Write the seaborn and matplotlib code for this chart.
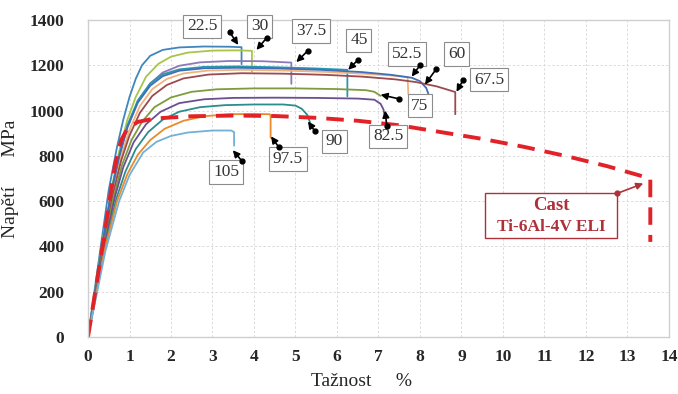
import matplotlib
matplotlib.use("Agg")
import matplotlib.pyplot as plt
import seaborn as sns
import pandas as pd

# Tensile curves of printed Ti-6Al-4V ELI specimens, one per build angle
angles = ["22.5", "30", "37.5", "45", "52.5", "60", "67.5", "75", "82.5", "90", "97.5", "105"]

strain_22_5 = [0, 0.3, 0.5, 0.7, 0.85, 1.0, 1.15, 1.3, 1.5, 1.8, 2.2, 2.8, 3.4, 3.7, 3.7]
stress_22_5 = [0, 390, 650, 840, 960, 1060, 1140, 1200, 1242, 1268, 1279, 1283, 1282, 1280, 1205]

strain_30 = [0, 0.32, 0.55, 0.75, 0.95, 1.15, 1.4, 1.7, 2.0, 2.4, 3.0, 3.6, 3.95, 3.95]
stress_30 = [0, 390, 640, 820, 960, 1060, 1150, 1207, 1238, 1256, 1265, 1266, 1264, 1172]

strain_37_5 = [0, 0.33, 0.55, 0.75, 0.95, 1.2, 1.5, 1.8, 2.2, 2.7, 3.4, 4.2, 4.9, 4.9]
stress_37_5 = [0, 390, 630, 800, 930, 1040, 1120, 1168, 1198, 1213, 1219, 1218, 1212, 1118]

strain_45 = [0, 0.33, 0.55, 0.75, 0.95, 1.2, 1.5, 1.8, 2.2, 2.8, 3.6, 4.6, 5.5, 6.25, 6.25]
stress_45 = [0, 390, 630, 800, 935, 1045, 1120, 1160, 1182, 1193, 1195, 1191, 1186, 1180, 1063]

strain_52_5 = [0, 0.35, 0.6, 0.8, 1.0, 1.25, 1.55, 1.9, 2.3, 2.9, 3.7, 4.7, 5.7, 6.7, 7.3, 7.7, 7.72]
stress_52_5 = [0, 390, 640, 800, 915, 1020, 1095, 1140, 1164, 1177, 1180, 1177, 1171, 1162, 1155, 1148, 1072]

strain_60 = [0, 0.33, 0.55, 0.75, 0.95, 1.2, 1.5, 1.8, 2.2, 2.8, 3.6, 4.6, 5.6, 6.6, 7.3, 7.8, 8.0, 8.15, 8.2]
stress_60 = [0, 390, 625, 795, 925, 1035, 1110, 1152, 1176, 1187, 1189, 1186, 1180, 1170, 1158, 1145, 1130, 1100, 1075]

strain_67_5 = [0, 0.36, 0.6, 0.8, 1.0, 1.25, 1.55, 1.9, 2.3, 2.9, 3.7, 4.7, 5.7, 6.6, 7.4, 7.9, 8.4, 8.85, 8.85]
stress_67_5 = [0, 390, 630, 780, 890, 990, 1065, 1113, 1142, 1159, 1165, 1163, 1158, 1150, 1138, 1126, 1107, 1082, 984]

strain_75 = [0, 0.37, 0.62, 0.82, 1.05, 1.3, 1.6, 2.0, 2.5, 3.1, 4.0, 5.0, 6.0, 6.7, 6.9, 7.05]
stress_75 = [0, 390, 620, 760, 870, 950, 1015, 1058, 1083, 1094, 1098, 1098, 1095, 1090, 1083, 1065]

strain_82_5 = [0, 0.38, 0.65, 0.85, 1.1, 1.4, 1.75, 2.2, 2.8, 3.5, 4.5, 5.5, 6.5, 6.9, 7.05, 7.12, 7.15]
stress_82_5 = [0, 390, 620, 750, 860, 940, 995, 1033, 1050, 1056, 1057, 1056, 1053, 1048, 1030, 1005, 975]

strain_90 = [0, 0.4, 0.68, 0.9, 1.15, 1.45, 1.8, 2.2, 2.7, 3.3, 4.0, 4.7, 5.0, 5.15, 5.28, 5.35]
stress_90 = [0, 390, 610, 730, 830, 905, 960, 995, 1015, 1024, 1027, 1027, 1022, 1008, 982, 948]

strain_97_5 = [0, 0.4, 0.7, 0.95, 1.2, 1.5, 1.85, 2.3, 2.8, 3.4, 4.0, 4.38, 4.4, 4.4]
stress_97_5 = [0, 385, 600, 720, 805, 870, 920, 955, 975, 984, 985, 984, 975, 880]

strain_105 = [0, 0.42, 0.75, 1.0, 1.33, 1.65, 2.0, 2.4, 3.0, 3.45, 3.52, 3.52]
stress_105 = [0, 380, 600, 715, 815, 862, 888, 903, 912, 912, 905, 845]

# Reference curve for cast material
cast_strain = [0, 0.35, 0.65, 0.8, 0.95, 1.2, 1.6, 2.5, 3.5, 4.5, 5.5, 6.5, 7.5, 8.5, 9.5, 10.5, 11.5, 12.5, 13.55, 13.55]
cast_stress = [0, 400, 760, 870, 920, 950, 965, 975, 978, 976, 968, 955, 935, 905, 875, 840, 800, 755, 700, 420]

x_ticks = list(range(0, 15))
y_ticks = [0, 200, 400, 600, 800, 1000, 1200, 1400]

curves = {
    "22.5": (strain_22_5, stress_22_5), "30": (strain_30, stress_30),
    "37.5": (strain_37_5, stress_37_5), "45": (strain_45, stress_45),
    "52.5": (strain_52_5, stress_52_5), "60": (strain_60, stress_60),
    "67.5": (strain_67_5, stress_67_5), "75": (strain_75, stress_75),
    "82.5": (strain_82_5, stress_82_5), "90": (strain_90, stress_90),
    "97.5": (strain_97_5, stress_97_5), "105": (strain_105, stress_105),
}

colors = {
    "22.5": "#3f86bd", "30": "#a8c54a", "37.5": "#8f78b8", "45": "#2a97ac",
    "52.5": "#f2b27c", "60": "#3f6fb8", "67.5": "#9b4a4e", "75": "#7e9b3e",
    "82.5": "#6b4f91", "90": "#2f8c8c", "97.5": "#e98a2c", "105": "#72b0d8",
}

# label box centre, arrow tail, arrow head (data coordinates)
label_pos = {
    "22.5": ((2.75, 1372), (3.42, 1345), (3.62, 1290)),
    "30":   ((4.14, 1372), (4.31, 1322), (4.06, 1268)),
    "37.5": ((5.37, 1352), (5.30, 1265), (5.02, 1214)),
    "45":   ((6.53, 1310), (6.51, 1225), (6.27, 1180)),
    "52.5": ((7.69, 1250), (8.00, 1200), (7.80, 1150)),
    "60":   ((8.89, 1250), (8.39, 1183), (8.12, 1115)),
    "67.5": ((9.66, 1137), (9.04, 1135), (8.88, 1083)),
    "75":   ((8.00, 1022), (7.49, 1052), (7.05, 1070)),
    "82.5": ((7.23, 886), (7.20, 930), (7.16, 1000)),
    "90":   ((5.93, 864), (5.47, 908), (5.30, 952)),
    "97.5": ((4.82, 786), (4.60, 838), (4.41, 886)),
    "105":  ((3.33, 729), (3.71, 777), (3.49, 825)),
}

rows = []
for a in angles:
    xs, ys = curves[a]
    for i, (x, y) in enumerate(zip(xs, ys)):
        rows.append({"angle": a, "idx": i, "strain": x, "stress": y})
df = pd.DataFrame(rows)

sns.set_style("white")
plt.rcParams["font.family"] = ["Liberation Serif", "DejaVu Serif"]

fig = plt.figure(figsize=(6.78, 3.94), dpi=100)
ax = fig.add_axes([0.1298, 0.1447, 0.8569, 0.8045])

sns.lineplot(data=df, x="strain", y="stress", hue="angle", hue_order=angles,
             palette=colors, units="angle", estimator=None, sort=False,
             legend=False, lw=1.3, ax=ax)

sns.lineplot(x=cast_strain, y=cast_stress, color="#e32228", lw=2.8,
             linestyle=(0, (4.5, 2.6)), sort=False, estimator=None, ax=ax)

ax.set_xlim(0, 14)
ax.set_ylim(0, 1400)
ax.set_xticks(x_ticks)
ax.set_yticks(y_ticks)
ax.grid(True, color="#dcdcdc", linestyle=(0, (2.5, 2)), lw=0.7)
ax.set_axisbelow(True)
for s in ax.spines.values():
    s.set_color("#cfcfcf")
    s.set_linewidth(1.0)
ax.tick_params(length=0, labelsize=12.5, pad=9)
ax.tick_params(axis="y", pad=17)
for lab in ax.get_xticklabels() + ax.get_yticklabels():
    lab.set_fontweight("bold")

ax.set_xlabel("Tažnost     %", fontsize=14, labelpad=4)
ax.set_ylabel("Napětí      MPa", fontsize=14, labelpad=8)
ax.xaxis.set_label_coords(0.47, -0.115)

for a in angles:
    (cx, cy), tail, head = label_pos[a]
    ax.text(cx, cy, a, fontsize=12.5, color="#333333", ha="center", va="center",
            bbox=dict(boxstyle="square,pad=0.22", fc="white", ec="#8c8c8c", lw=0.8),
            zorder=6)
    ax.annotate("", xy=head, xytext=tail,
                arrowprops=dict(arrowstyle="-|>,head_length=0.4,head_width=0.2",
                                color="black", lw=1.2, shrinkA=0, shrinkB=0), zorder=7)
    ax.plot(*tail, "o", color="black", ms=3.5, zorder=7)

# Cast label
ax.add_patch(plt.Rectangle((9.57, 436), 3.18, 200, fill=True, fc="white",
                           ec="#b0303a", lw=1.0, zorder=5))
ax.text(11.16, 580, "Cast", fontsize=13.5, fontweight="bold", color="#b0303a",
        ha="center", va="center", zorder=6)
ax.text(11.16, 485, "Ti-6Al-4V ELI", fontsize=12.5, fontweight="bold", color="#b0303a",
        ha="center", va="center", zorder=6)
ax.annotate("", xy=(13.38, 678), xytext=(12.75, 634),
            arrowprops=dict(arrowstyle="-|>,head_length=0.4,head_width=0.2",
                            color="#b0303a", lw=1.2, shrinkA=0, shrinkB=0), zorder=7)
ax.plot(12.75, 634, "o", color="#b0303a", ms=3.5, zorder=7)

fig.savefig("out.png", dpi=100)
